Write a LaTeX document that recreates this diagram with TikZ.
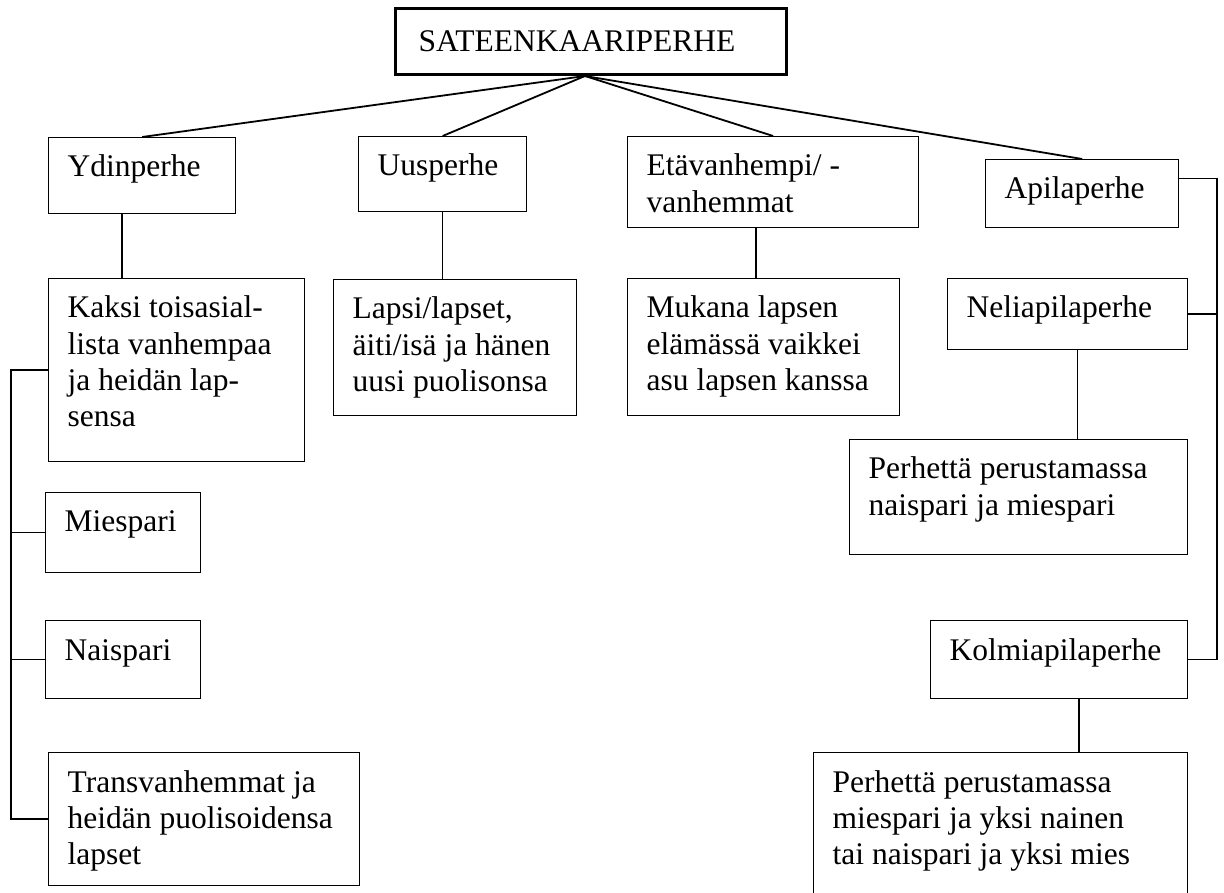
\documentclass[tikz,border=0pt]{standalone}
\usepackage{fontspec}
\setmainfont{Liberation Serif}
\usetikzlibrary{calc}
\newcommand{\famtext}[3]{\parbox[t][#2pt][t]{#1pt}{\raggedright\strut #3}}

\begin{document}
\begin{tikzpicture}[x=1pt,y=-1pt,line width=1.4pt,
                    fam/.style={draw,line width=1.3pt,anchor=north west,inner xsep=19pt,inner ysep=14pt,
                                font=\fontsize{31.5}{36.2}\selectfont},
                    top node/.style={fam,line width=3pt,inner xsep=23pt,inner ysep=18pt}]
    \clip (0,0) rectangle (1224,892);

    \node[top node] (root) at (394,7) {\famtext{345}{30}{SATEENKAARIPERHE}};

    \node[fam] (ydin) at (48,137) {\famtext{149}{48}{Ydinperhe}};
    \node[fam] (uus) at (358,136) {\famtext{130}{47}{Uusperhe}};
    \node[fam] (eta) at (627,136) {\famtext{253}{63}{Etävanhempi/ -\\vanhemmat}};
    \node[fam] (apila) at (985,159) {\famtext{155}{40}{Apilaperhe}};

    \node[fam] (kaksi) at (48,278) {\famtext{218}{155}{Kaksi toisasial-\\lista vanhempaa\\ja heidän lap-\\sensa}};
    \node[fam] (lapsi) at (333,279) {\famtext{205}{108}{Lapsi/lapset,\\äiti/isä ja hänen\\uusi puolisonsa}};
    \node[fam] (mukana) at (627,278) {\famtext{234}{109}{Mukana lapsen\\elämässä vaikkei\\asu lapsen kanssa}};
    \node[fam] (neli) at (947,278) {\famtext{202}{43}{Neliapilaperhe}};
    \node[fam] (nelitxt) at (849,439) {\famtext{300}{87}{Perhettä perustamassa\\naispari ja miespari}};

    \node[fam] (miespari) at (45,492) {\famtext{117}{52}{Miespari}};
    \node[fam] (naispari) at (45,620) {\famtext{117}{50}{Naispari}};
    \node[fam] (kolmi) at (930,620) {\famtext{219}{50}{Kolmiapilaperhe}};
    \node[fam] (trans) at (48,752) {\famtext{273}{105}{Transvanhemmat ja\\heidän puolisoidensa\\lapset}};
    \node[fam] (kolmitxt) at (813,752) {\famtext{336}{122}{Perhettä perustamassa\\miespari ja yksi nainen\\tai naispari ja yksi mies}};

    \coordinate (fan) at ([xshift=-6pt]root.south);
    \coordinate (lb) at (11,368);
    \coordinate (rb) at (1217,178);

    \path[line width=1.8pt] (fan) edge (ydin.north)
                                  edge (uus.north)
                                  edge (eta.north)
                                  edge (apila.north);

    \draw ([xshift=-20pt]ydin.south) -- ([xshift=-20pt]ydin.south |- kaksi.north);
    \draw (uus.south) -- (uus.south |- lapsi.north);
    \draw ([xshift=-17pt]eta.south) -- ([xshift=-17pt]eta.south |- mukana.north);
    \draw ([xshift=10pt]neli.south) -- ([xshift=10pt]neli.south |- nelitxt.north);
    \draw ([xshift=20pt]kolmi.south) -- ([xshift=20pt]kolmi.south |- kolmitxt.north);

    \draw (kaksi.west) -- (kaksi.west -| lb) |- (trans.west);
    \draw (miespari.west) -- (miespari.west -| lb);
    \draw (naispari.west) -- (naispari.west -| lb);

    \draw ([yshift=15pt]apila.east) -- ([yshift=15pt]apila.east -| rb) |- (kolmi.east);
    \draw (neli.east) -- (neli.east -| rb);
\end{tikzpicture}
\end{document}
